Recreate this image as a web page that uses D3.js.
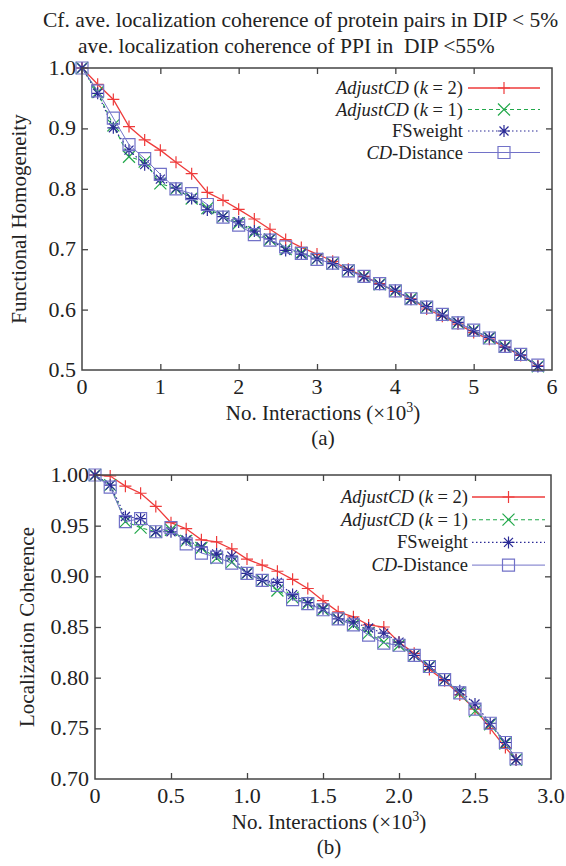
<!DOCTYPE html>
<html>
<head>
<meta charset="utf-8">
<script src="https://cdn.jsdelivr.net/npm/d3@7/dist/d3.min.js"></script>
<style>
  body { margin: 0; background: #fff; }
</style>
</head>
<body>
<div id="chart"></div>
<script>
// ---- panel (a): functional homogeneity ----
const xA = [0, 0.2, 0.4, 0.6, 0.8, 1.0, 1.2, 1.4, 1.6, 1.8, 2.0, 2.2, 2.4, 2.6, 2.8,
	3.0, 3.2, 3.4, 3.6, 3.8, 4.0, 4.2, 4.4, 4.6, 4.8, 5.0, 5.2, 5.4, 5.6, 5.82];
const fhK2 = [1.0, 0.973, 0.948, 0.903, 0.881, 0.864, 0.844, 0.825, 0.794, 0.781, 0.766, 0.750, 0.733, 0.716, 0.703,
	0.692, 0.680, 0.667, 0.655, 0.643, 0.630, 0.618, 0.601, 0.589, 0.576, 0.562, 0.551, 0.538, 0.524, 0.507];
const fhK1 = [1.0, 0.960, 0.905, 0.853, 0.845, 0.809, 0.800, 0.784, 0.768, 0.754, 0.743, 0.728, 0.716, 0.700, 0.694,
	0.684, 0.676, 0.665, 0.655, 0.642, 0.631, 0.618, 0.604, 0.591, 0.578, 0.566, 0.553, 0.539, 0.525, 0.506];
const fhFS = [1.0, 0.958, 0.901, 0.864, 0.840, 0.816, 0.801, 0.784, 0.765, 0.754, 0.745, 0.730, 0.717, 0.698, 0.692,
	0.684, 0.676, 0.665, 0.654, 0.642, 0.632, 0.617, 0.605, 0.591, 0.579, 0.565, 0.554, 0.538, 0.525, 0.506];
const fhCD = [1.0, 0.962, 0.917, 0.873, 0.850, 0.824, 0.800, 0.792, 0.774, 0.753, 0.740, 0.724, 0.715, 0.704, 0.693,
	0.683, 0.677, 0.664, 0.655, 0.643, 0.631, 0.618, 0.604, 0.592, 0.578, 0.566, 0.553, 0.539, 0.526, 0.508];
const xTicksA = [0, 1, 2, 3, 4, 5, 6];
const yTicksA = [0.5, 0.6, 0.7, 0.8, 0.9, 1.0];

// ---- panel (b): localization coherence ----
const xB = [0, 0.1, 0.2, 0.3, 0.4, 0.5, 0.6, 0.7, 0.8, 0.9, 1.0, 1.1, 1.2, 1.3, 1.4,
	1.5, 1.6, 1.7, 1.8, 1.9, 2.0, 2.1, 2.2, 2.3, 2.4, 2.5, 2.6, 2.7, 2.77];
const lcK2 = [1.0, 0.999, 0.989, 0.982, 0.969, 0.953, 0.947, 0.936, 0.934, 0.927, 0.917, 0.911, 0.905, 0.897, 0.888,
	0.876, 0.865, 0.860, 0.852, 0.850, 0.835, 0.824, 0.808, 0.797, 0.783, 0.769, 0.750, 0.731, 0.719];
const lcK1 = [1.0, 0.990, 0.954, 0.948, 0.944, 0.946, 0.935, 0.928, 0.918, 0.914, 0.903, 0.896, 0.886, 0.879, 0.873,
	0.867, 0.858, 0.852, 0.844, 0.835, 0.832, 0.822, 0.811, 0.798, 0.785, 0.767, 0.754, 0.735, 0.719];
const lcFS = [1.0, 0.990, 0.959, 0.957, 0.944, 0.944, 0.936, 0.929, 0.922, 0.920, 0.903, 0.896, 0.894, 0.882, 0.874,
	0.868, 0.858, 0.855, 0.849, 0.844, 0.835, 0.822, 0.811, 0.798, 0.787, 0.774, 0.755, 0.736, 0.719];
const lcCD = [1.0, 0.988, 0.954, 0.957, 0.944, 0.948, 0.932, 0.923, 0.919, 0.913, 0.903, 0.896, 0.891, 0.877, 0.873,
	0.867, 0.858, 0.852, 0.842, 0.834, 0.832, 0.822, 0.811, 0.798, 0.785, 0.769, 0.755, 0.736, 0.720];
const xTicksB = [0, 0.5, 1.0, 1.5, 2.0, 2.5, 3.0];
const yTicksB = [0.70, 0.75, 0.80, 0.85, 0.90, 0.95, 1.00];

const titleLines = ["Cf. ave. localization coherence of protein pairs in DIP < 5%",
	"ave. localization coherence of PPI in  DIP <55%"];

// series styles, in drawing order
const styles = [
	{color: "#ee3b3b", dash: null, marker: "plus", width: 1.3},
	{color: "#22a84a", dash: "4,3", marker: "cross", width: 1.1},
	{color: "#2a2a96", dash: "1.5,2.5", marker: "star", width: 1.2},
	{color: "#7272c8", dash: null, marker: "square", width: 1.0}
];

const FONT = "'Liberation Serif', 'Times New Roman', Times, 'DejaVu Serif', serif";

const svg = d3.select("#chart").append("svg")
	.attr("width", 566)
	.attr("height", 866)
	.attr("font-family", FONT)
	.attr("fill", "#222");

// title
svg.append("text").attr("x", 43).attr("y", 27).attr("font-size", 21.5)
	.style("white-space", "pre").text(titleLines[0]);
svg.append("text").attr("x", 78).attr("y", 53).attr("font-size", 21.5)
	.style("white-space", "pre").text(titleLines[1]);

function markerPath(type, r) {
	if (type === "plus") return `M${-r},0H${r}M0,${-r}V${r}`;
	if (type === "cross") return `M${-r},${-r}L${r},${r}M${-r},${r}L${r},${-r}`;
	if (type === "star") return `M${-r},0H${r}M0,${-r}V${r}M${-r * 0.75},${-r * 0.75}L${r * 0.75},${r * 0.75}M${-r * 0.75},${r * 0.75}L${r * 0.75},${-r * 0.75}`;
	return `M${-r},${-r}H${r}V${r}H${-r}Z`;
}

function legendLabel(textSel, idx) {
	if (idx === 0 || idx === 1) {
		textSel.append("tspan").attr("font-style", "italic").text("AdjustCD");
		textSel.append("tspan").text(" (");
		textSel.append("tspan").attr("font-style", "italic").text("k");
		textSel.append("tspan").text(idx === 0 ? " = 2)" : " = 1)");
	} else if (idx === 2) {
		textSel.append("tspan").text("FSweight");
	} else {
		textSel.append("tspan").attr("font-style", "italic").text("CD");
		textSel.append("tspan").text("-Distance");
	}
}

function drawPanel(cfg) {
	let g = svg.append("g");

	let x = d3.scaleLinear().domain(cfg.xDomain).range([cfg.left, cfg.right]);
	let y = d3.scaleLinear().domain(cfg.yDomain).range([cfg.bottom, cfg.top]);

	// inward ticks on all four sides
	let inner = (arr) => arr.slice(1, -1);
	g.append("g").attr("transform", `translate(0,${cfg.bottom})`)
		.call(d3.axisBottom(x).tickValues(inner(cfg.xTicks)).tickSizeInner(-6).tickSizeOuter(0).tickFormat(""))
		.call(a => a.select(".domain").remove());
	g.append("g").attr("transform", `translate(0,${cfg.top})`)
		.call(d3.axisTop(x).tickValues(inner(cfg.xTicks)).tickSizeInner(-6).tickSizeOuter(0).tickFormat(""))
		.call(a => a.select(".domain").remove());
	g.append("g").attr("transform", `translate(${cfg.left},0)`)
		.call(d3.axisLeft(y).tickValues(inner(cfg.yTicks)).tickSizeInner(-6).tickSizeOuter(0).tickFormat(""))
		.call(a => a.select(".domain").remove());
	g.append("g").attr("transform", `translate(${cfg.right},0)`)
		.call(d3.axisRight(y).tickValues(inner(cfg.yTicks)).tickSizeInner(-6).tickSizeOuter(0).tickFormat(""))
		.call(a => a.select(".domain").remove());
	g.selectAll(".tick line").attr("stroke", "#444").attr("stroke-width", 1.3);

	// tick labels
	g.selectAll(".xlab").data(cfg.xTicks).enter().append("text")
		.attr("class", "xlab")
		.attr("x", d => x(d))
		.attr("y", cfg.bottom + 24)
		.attr("text-anchor", "middle")
		.attr("font-size", 22)
		.text(cfg.xFmt);
	g.selectAll(".ylab").data(cfg.yTicks).enter().append("text")
		.attr("class", "ylab")
		.attr("x", cfg.left - 6)
		.attr("y", d => y(d) + 7)
		.attr("text-anchor", "end")
		.attr("font-size", 22)
		.text(cfg.yFmt);

	// axis titles
	let xt = g.append("text")
		.attr("x", (cfg.left + cfg.right) / 2 + 6)
		.attr("y", cfg.bottom + 50)
		.attr("text-anchor", "middle")
		.attr("font-size", 21);
	xt.append("tspan").text("No. Interactions (\u00D710");
	xt.append("tspan").attr("dy", -8).attr("font-size", 14).text("3");
	xt.append("tspan").attr("dy", 8).text(")");

	g.append("text")
		.attr("transform", `translate(${cfg.yTitleX},${(cfg.top + cfg.bottom) / 2}) rotate(-90)`)
		.attr("text-anchor", "middle")
		.attr("font-size", 21)
		.text(cfg.yTitle);

	g.append("text")
		.attr("x", (cfg.left + cfg.right) / 2 + 6)
		.attr("y", cfg.bottom + 75)
		.attr("text-anchor", "middle")
		.attr("font-size", 21)
		.text(cfg.tag);

	// series
	let clip = "clip" + cfg.tag.replace(/[()]/g, "");
	svg.append("clipPath").attr("id", clip).append("rect")
		.attr("x", cfg.left - 8).attr("y", cfg.top - 8)
		.attr("width", cfg.right - cfg.left + 16).attr("height", cfg.bottom - cfg.top + 16);

	let line = d3.line().x(d => x(d[0])).y(d => y(d[1]));
	cfg.series.forEach((vals, i) => {
		let st = styles[i];
		let pts = cfg.xs.map((v, j) => [v, vals[j]]);
		let sg = g.append("g").attr("clip-path", `url(#${clip})`);
		sg.append("path")
			.datum(pts)
			.attr("d", line)
			.attr("fill", "none")
			.attr("stroke", st.color)
			.attr("stroke-width", st.width)
			.attr("stroke-dasharray", st.dash);
		sg.selectAll(".pt").data(pts).enter().append("path")
			.attr("class", "pt")
			.attr("transform", d => `translate(${x(d[0])},${y(d[1])})`)
			.attr("d", markerPath(st.marker, 6))
			.attr("fill", "none")
			.attr("stroke", st.color)
			.attr("stroke-width", 1.2);
	});

	// frame
	g.append("rect")
		.attr("x", cfg.left).attr("y", cfg.top)
		.attr("width", cfg.right - cfg.left).attr("height", cfg.bottom - cfg.top)
		.attr("fill", "none").attr("stroke", "#444").attr("stroke-width", 1.5);

	// legend
	let lg = g.append("g");
	styles.forEach((st, i) => {
		let ly = cfg.legendY + i * cfg.legendStep;
		let t = lg.append("text")
			.attr("x", cfg.legendTextX)
			.attr("y", ly + 6)
			.attr("text-anchor", "end")
			.attr("font-size", 18.5);
		legendLabel(t, i);
		lg.append("line")
			.attr("x1", cfg.legendLine[0]).attr("x2", cfg.legendLine[1])
			.attr("y1", ly).attr("y2", ly)
			.attr("stroke", st.color).attr("stroke-width", st.width)
			.attr("stroke-dasharray", st.dash);
		lg.append("path")
			.attr("transform", `translate(${(cfg.legendLine[0] + cfg.legendLine[1]) / 2},${ly})`)
			.attr("d", markerPath(st.marker, 6))
			.attr("fill", "none").attr("stroke", st.color).attr("stroke-width", 1.2);
	});
}

drawPanel({
	left: 82, right: 552, top: 68, bottom: 370,
	xDomain: [0, 6], yDomain: [0.5, 1.0],
	xTicks: xTicksA, yTicks: yTicksA,
	xFmt: d3.format("d"), yFmt: d3.format(".1f"),
	xs: xA, series: [fhK2, fhK1, fhFS, fhCD],
	yTitle: "Functional Homogeneity", yTitleX: 26, tag: "(a)",
	legendY: 88, legendStep: 21.5, legendTextX: 463, legendLine: [468, 540]
});

drawPanel({
	left: 95, right: 551, top: 475, bottom: 779,
	xDomain: [0, 3], yDomain: [0.70, 1.00],
	xTicks: xTicksB, yTicks: yTicksB,
	xFmt: d => d === 0 ? "0" : d3.format(".1f")(d), yFmt: d3.format(".2f"),
	xs: xB, series: [lcK2, lcK1, lcFS, lcCD],
	yTitle: "Localization Coherence", yTitleX: 34, tag: "(b)",
	legendY: 497, legendStep: 22.7, legendTextX: 468, legendLine: [472, 545]
});
</script>
</body>
</html>
